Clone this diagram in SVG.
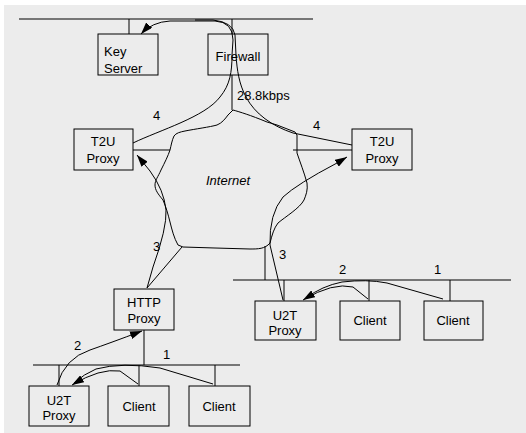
<svg xmlns="http://www.w3.org/2000/svg" width="526" height="433" viewBox="0 0 526 433">
<defs>
<style>
.bx{fill:none;stroke:#000;stroke-width:1}
.ln{fill:none;stroke:#000;stroke-width:1}
.ar{fill:none;stroke:#000;stroke-width:1;marker-end:url(#ah)}
text{font-family:"Liberation Sans",Arial,sans-serif;font-size:13px;fill:#000}
.c{text-anchor:middle}
.it{font-style:italic}
</style>
<marker id="ah" viewBox="0 0 12 8" refX="12" refY="4" markerWidth="12" markerHeight="8" markerUnits="userSpaceOnUse" orient="auto">
<path d="M0,0 L12,4 L0,8 z" fill="#000"/>
</marker>
</defs>
<rect x="0" y="0" width="526" height="433" fill="#fff"/>
<rect x="4" y="5" width="522" height="428" fill="#ececec"/>

<g id="networks" class="ln">
<path class="ln" d="M19,19 H313 M129,19 V34 M232,19 V34"/>
<path class="ln" d="M232,75 V110"/>
<path class="ln" d="M233,280 H511 M284,280 V301 M369,280 V301 M450,280 V301 M265,246 V280"/>
<path class="ln" d="M33,365 H240 M59,365 V386 M139,365 V386 M215,365 V386 M144,330 V365"/>
<path class="ln" d="M133,150 H170 M293,150 H352"/>
<path class="ln" d="M147,288 L182,247"/>
</g>

<g id="internet">
<path class="ln" d="M233,110 C240,112 250,115 267,122 L277,125 L295,132 L297,135 L297,153 C300,162 304,172 307,183 C308,190 306,195 304,200 C300,208 285,217 278,223 C274,228 272,235 270,243 C265,249 258,249 250,249 L215,248 L183,247 L178,245 C174,238 172,230 170,222 C168,214 166,207 163,200 C158,194 155,190 155,185 C155,180 158,177 161,170 C165,162 168,156 170,150 C171,146 172,140 174,136 C176,133 180,132 185,131 C195,129 210,127 217,125 C222,123 225,119 228,115 Z"/>
<text x="228" y="185" class="c it">Internet</text>
</g>

<g id="keyserver">
<rect class="bx" x="98" y="34" width="60" height="41"/>
<text x="104" y="56">Key</text>
<text x="104" y="73">Server</text>
</g>
<g id="firewall">
<rect class="bx" x="208" y="34" width="60" height="41"/>
<text x="238" y="61" class="c">Firewall</text>
</g>
<g id="t2u-left">
<rect class="bx" x="74" y="129" width="59" height="41"/>
<text x="103" y="146" class="c">T2U</text>
<text x="103" y="163" class="c">Proxy</text>
</g>
<g id="t2u-right">
<rect class="bx" x="352" y="129" width="60" height="41"/>
<text x="382" y="146" class="c">T2U</text>
<text x="382" y="163" class="c">Proxy</text>
</g>
<g id="http-proxy">
<rect class="bx" x="114" y="289" width="60" height="41"/>
<text x="144" y="307" class="c">HTTP</text>
<text x="144" y="323" class="c">Proxy</text>
</g>
<g id="u2t-right">
<rect class="bx" x="255" y="301" width="61" height="39"/>
<text x="285" y="320" class="c">U2T</text>
<text x="285" y="335" class="c">Proxy</text>
</g>
<g id="client-r1">
<rect class="bx" x="340" y="301" width="60" height="39"/>
<text x="370" y="325" class="c">Client</text>
</g>
<g id="client-r2">
<rect class="bx" x="424" y="301" width="59" height="39"/>
<text x="453" y="325" class="c">Client</text>
</g>
<g id="u2t-left">
<rect class="bx" x="29" y="386" width="60" height="40"/>
<text x="59" y="405" class="c">U2T</text>
<text x="59" y="420" class="c">Proxy</text>
</g>
<g id="client-l1">
<rect class="bx" x="108" y="386" width="61" height="40"/>
<text x="139" y="411" class="c">Client</text>
</g>
<g id="client-l2">
<rect class="bx" x="189" y="386" width="61" height="40"/>
<text x="219" y="411" class="c">Client</text>
</g>

<g id="connectors">
<path class="ar" d="M133,143 C160,130 205,117 220,97 C230,85 232,72 232,55 L233,40 Q233,22 215,21 L170,21 Q152,22 141,34"/>
<path class="ln" d="M352,145 L293,133 C272,126 255,114 246,97 C239,84 237,70 236,55 L235,35 Q233,22 213,20 L195,20"/>
<path class="ar" d="M147,288 L153,267 Q167,228 166,210 Q164,190 150,171 L137,155"/>
<path class="ar" d="M283,300 L270,245 Q269,214 283,197 Q297,184 337,163 L347,157"/>
<path class="ar" d="M368,299 L353,287 Q333,282 303,300"/>
<path class="ln" d="M443,299 L387,283 Q367,279 342,282 Q322,286 306,298"/>
<path class="ar" d="M138,384 L120,371 Q100,368 72,385"/>
<path class="ln" d="M213,384 L160,368 Q122,362 96,369 Q84,374 74,383"/>
<path class="ar" d="M57,385 Q65,358 90,350 Q110,343 142,331"/>
</g>

<g id="labels">
<text x="237" y="100">28.8kbps</text>
<text x="153" y="120">4</text>
<text x="313" y="130">4</text>
<text x="153" y="251">3</text>
<text x="279" y="259">3</text>
<text x="339" y="274">2</text>
<text x="434" y="274">1</text>
<text x="74" y="350">2</text>
<text x="163" y="359">1</text>
</g>
</svg>
